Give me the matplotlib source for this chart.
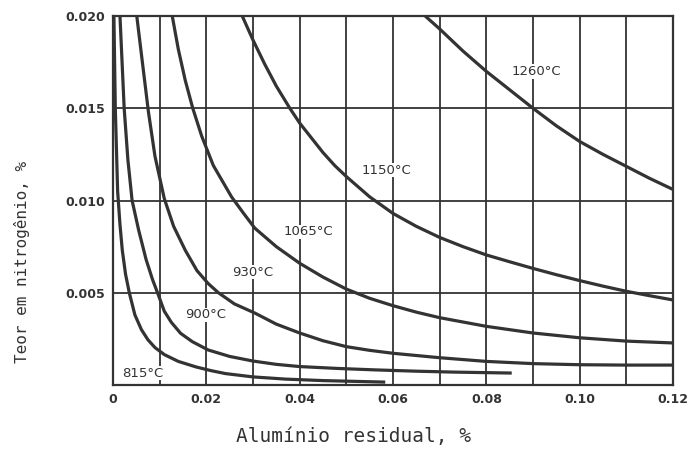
import matplotlib
matplotlib.use("Agg")
import matplotlib.pyplot as plt

# curvas de solubilidade AlN (Al residual %, N %)
al_815 = [0.0002, 0.0005, 0.001, 0.0015, 0.002, 0.0027, 0.0035, 0.0047, 0.0061, 0.0075, 0.009, 0.011,
          0.014, 0.0178, 0.021, 0.0241, 0.030, 0.037, 0.045, 0.058]
n_815 = [0.020, 0.015, 0.0105, 0.0087, 0.0073, 0.0060, 0.0050, 0.0038, 0.0030, 0.00245, 0.00203, 0.00165,
         0.00128, 0.00098, 0.00078, 0.00062, 0.00044, 0.00032, 0.00024, 0.00016]

al_900 = [0.0015, 0.0024, 0.0032, 0.0041, 0.0055, 0.0071, 0.0085, 0.0097, 0.011, 0.0125, 0.0145, 0.017,
          0.0204, 0.025, 0.030, 0.035, 0.040, 0.048, 0.0562, 0.065, 0.0731, 0.0851]
n_900 = [0.020, 0.015, 0.0122, 0.0100, 0.0084, 0.0068, 0.0057, 0.0049, 0.0040, 0.0034, 0.0028, 0.00235,
         0.00190, 0.00155, 0.00130, 0.00112, 0.00100, 0.00090, 0.00082, 0.00075, 0.00070, 0.00065]

al_930 = [0.0051, 0.0063, 0.0076, 0.009, 0.011, 0.013, 0.0155, 0.018, 0.0204, 0.0226, 0.026, 0.0304,
          0.035, 0.040, 0.045, 0.050, 0.055, 0.060, 0.070, 0.080, 0.090, 0.100, 0.110, 0.120]
n_930 = [0.020, 0.0175, 0.0148, 0.0124, 0.0101, 0.0086, 0.0073, 0.0062, 0.0055, 0.0050, 0.0044, 0.0039,
         0.0033, 0.00282, 0.0024, 0.00208, 0.00188, 0.00172, 0.00148, 0.00128, 0.00116, 0.00110, 0.00108, 0.00108]

al_1065 = [0.0127, 0.014, 0.0155, 0.0171, 0.019, 0.0215, 0.0254, 0.028, 0.0304, 0.035, 0.040, 0.045,
           0.050, 0.055, 0.060, 0.065, 0.070, 0.080, 0.090, 0.100, 0.110, 0.120]
n_1065 = [0.020, 0.0182, 0.0165, 0.0150, 0.0135, 0.0119, 0.0102, 0.0093, 0.0085, 0.0075, 0.0066, 0.00585,
          0.0052, 0.0047, 0.0043, 0.00395, 0.00365, 0.00318, 0.00282, 0.00256, 0.00238, 0.00228]

al_1150 = [0.0277, 0.030, 0.0325, 0.035, 0.0379, 0.040, 0.0425, 0.045, 0.0475, 0.050, 0.055, 0.060,
           0.065, 0.070, 0.075, 0.080, 0.085, 0.090, 0.095, 0.100, 0.105, 0.110, 0.115, 0.120]
n_1150 = [0.020, 0.0187, 0.0174, 0.0162, 0.0150, 0.0142, 0.0134, 0.0126, 0.0119, 0.0113, 0.0102, 0.0093,
          0.0086, 0.0080, 0.0075, 0.00705, 0.00668, 0.00632, 0.00598, 0.00566, 0.00536, 0.00508, 0.00484, 0.00461]

al_1260 = [0.0669, 0.070, 0.075, 0.080, 0.085, 0.090, 0.095, 0.100, 0.105, 0.110, 0.115, 0.120]
n_1260 = [0.020, 0.0193, 0.0181, 0.0170, 0.0160, 0.0150, 0.01405, 0.0132, 0.0125, 0.01185, 0.0112, 0.0106]

curve_labels = ["815°C", "900°C", "930°C", "1065°C", "1150°C", "1260°C"]
label_x = [0.0063, 0.0198, 0.030, 0.0419, 0.0586, 0.0907]
label_y = [0.00065, 0.0038, 0.00612, 0.0083, 0.01165, 0.0170]

x_ticks = [0, 0.02, 0.04, 0.06, 0.08, 0.10, 0.12]
x_tick_labels = ["0", "0.02", "0.04", "0.06", "0.08", "0.10", "0.12"]
y_ticks = [0.005, 0.010, 0.015, 0.020]
y_tick_labels = ["0.005", "0.010", "0.015", "0.020"]

ink = "#333333"

fig = plt.figure(figsize=(6.88, 4.55), dpi=100)
ax = fig.add_axes([0.1642, 0.1538, 0.814, 0.811])

# grade: verticais a cada 0.01, horizontais a cada 0.005
for gx in [i * 0.01 for i in range(1, 12)]:
    ax.axvline(gx, color=ink, lw=1.3, zorder=1)
for gy in [0.005, 0.010, 0.015]:
    ax.axhline(gy, color=ink, lw=1.3, zorder=1)

curves = [(al_815, n_815), (al_900, n_900), (al_930, n_930),
          (al_1065, n_1065), (al_1150, n_1150), (al_1260, n_1260)]
for xs, ys in curves:
    ax.plot(xs, ys, color=ink, lw=2.3, solid_joinstyle="round", zorder=2)

for txt, tx, ty in zip(curve_labels, label_x, label_y):
    ax.text(tx, ty, txt, ha="center", va="center", fontsize=9.5, color=ink,
            bbox=dict(facecolor="white", edgecolor="none", pad=0.6), zorder=3)

ax.set_xlim(0, 0.12)
ax.set_ylim(0, 0.020)
ax.set_xticks(x_ticks)
ax.set_xticklabels(x_tick_labels)
ax.set_yticks(y_ticks)
ax.set_yticklabels(y_tick_labels)
ax.tick_params(length=0, labelsize=9, colors=ink, pad=6)
for lab in ax.get_xticklabels() + ax.get_yticklabels():
    lab.set_fontweight("bold")
for sp in ax.spines.values():
    sp.set_color(ink)
    sp.set_linewidth(1.6)

fig.text(0.5145, 0.040, "Alumínio residual, %", ha="center", va="center",
         fontsize=14, family="DejaVu Sans Mono", color=ink)
fig.text(0.032, 0.424, "Teor em nitrogênio, %", ha="center", va="center",
         rotation=90, fontsize=11.5, family="DejaVu Sans Mono", color=ink)

fig.savefig("out.png", dpi=100)
